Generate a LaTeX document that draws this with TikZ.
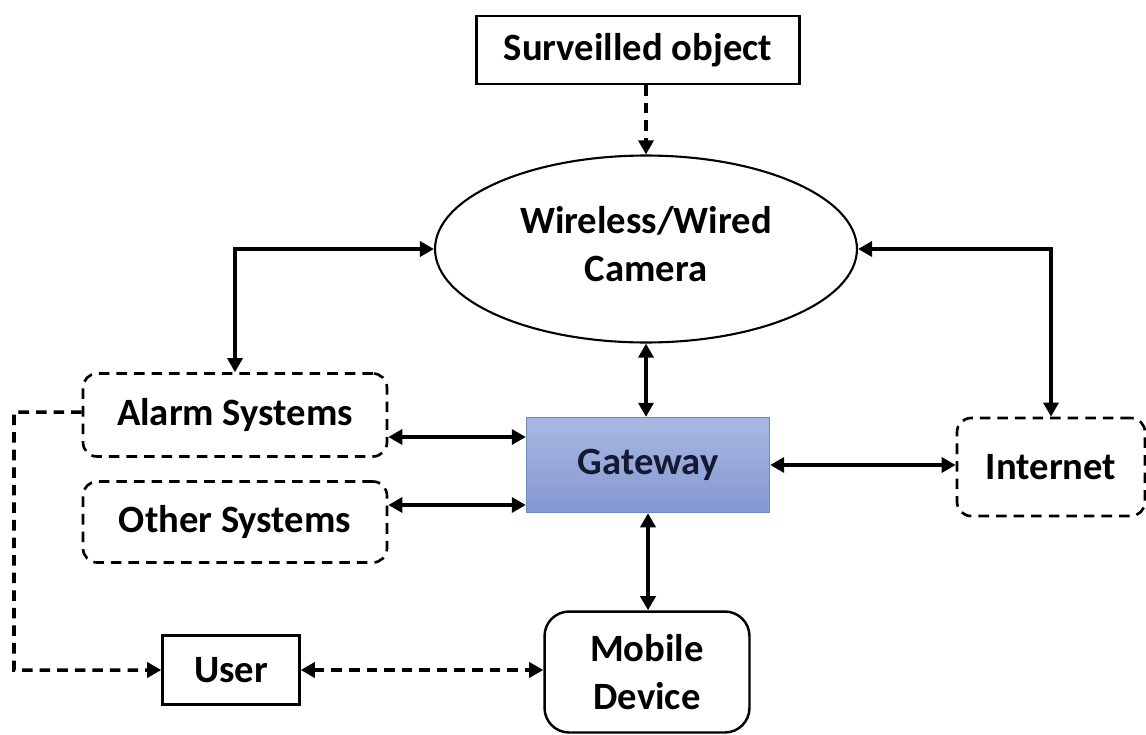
\documentclass[tikz,border=0pt]{standalone}
\usepackage{fontspec}
\setmainfont{Carlito}
\usetikzlibrary{arrows.meta,shapes.geometric}

\definecolor{gwtop}{HTML}{A9B8E2}
\definecolor{gwbot}{HTML}{8498D2}
\definecolor{gwline}{HTML}{7088C0}
\definecolor{gwtext}{HTML}{141a33}

\tikzset{
  lbl/.style={font=\fontsize{22}{27}\selectfont\bfseries, align=center, inner sep=0pt},
  solidbox/.style={lbl, draw, line width=1.4pt},
  dashbox/.style={lbl, draw, line width=1.5pt, dash pattern=on 6pt off 4pt, rounded corners=8pt},
  link/.style={line width=2pt, {Triangle[length=8pt,width=8.5pt]}-{Triangle[length=8pt,width=8.5pt]}},
  onelink/.style={line width=2pt, -{Triangle[length=8pt,width=8.5pt]}},
  dashlink/.style={dash pattern=on 6pt off 4pt}
}

\begin{document}
\begin{tikzpicture}[x=0.02cm, y=-0.02cm]
  \useasboundingbox (0,0) rectangle (1146,734);

  % nodes
  \node[solidbox, minimum width=6.46cm, minimum height=1.36cm] (obj) at (638,50) {Surveilled object};
  \node[lbl, draw, line width=1.2pt, ellipse, minimum width=8.44cm, minimum height=3.74cm] (cam) at (646,249) {Wireless/Wired\\Camera\\[-21pt]};
  \node[lbl, text=gwtext, draw=gwline, line width=0.8pt, top color=gwtop, bottom color=gwbot, minimum width=4.86cm, minimum height=1.9cm] (gw) at (648,465) {Gateway};
  \node[dashbox, minimum width=6.08cm, minimum height=1.66cm] (alarm) at (235,415) {Alarm Systems};
  \node[dashbox, minimum width=6.08cm, minimum height=1.62cm] (other) at (235,522) {Other Systems};
  \node[dashbox, minimum width=3.76cm, minimum height=1.96cm] (inet) at (1051,467) {Internet};
  \node[solidbox, rounded corners=14pt, minimum width=4.1cm, minimum height=2.42cm] (mob) at (647,672) {Mobile\\Device};
  \node[solidbox, minimum width=2.74cm, minimum height=1.38cm] (user) at (231,670) {User};

  % connectors
  \draw[onelink, dashlink] (obj.south -| cam.north) -- (cam.north);
  \draw[link] (alarm.north) |- (cam.west);
  \draw[link] (inet.north) |- (cam.east);
  \draw[link] (cam.south) -- (cam.south |- gw.north);
  \draw[link] ([yshift=-0.44cm]alarm.east) coordinate (a1) -- (a1 -| gw.west);
  \draw[link] ([yshift=0.34cm]other.east) coordinate (o1) -- (o1 -| gw.west);
  \draw[link] (gw.east) -- (gw.east -| inet.west);
  \draw[link] (gw.south) -- (gw.south |- mob.north);
  \draw[link, dashlink] (user.east) -- (user.east -| mob.west);
  \coordinate (lft) at (14,412);
  \draw[onelink, dashlink] ([yshift=0.06cm]alarm.west) -- (lft) |- (user.west);
\end{tikzpicture}
\end{document}
